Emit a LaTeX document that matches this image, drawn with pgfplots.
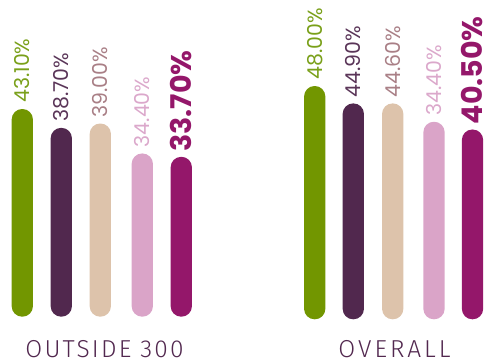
\documentclass[border=0pt]{standalone}
\usepackage{pgfplots}
\pgfplotsset{compat=1.18}
\usepackage{fontspec}
\setmainfont{Poppins}
\newfontfamily\lightfont[LetterSpace=9]{Fira Sans Light}
\newfontfamily\lightfontw[LetterSpace=12]{Fira Sans Light}
\definecolor{cgreen}{HTML}{729600}
\definecolor{cdpurple}{HTML}{51284E}
\definecolor{cbeige}{HTML}{DDC3AB}
\definecolor{cpink}{HTML}{DAA4C8}
\definecolor{cmagenta}{HTML}{94176A}
\definecolor{tgreen}{HTML}{7AA01A}
\definecolor{tdpurple}{HTML}{5A3558}
\definecolor{tbeige}{HTML}{A97F86}
\definecolor{tpink}{HTML}{DBA8CB}
\definecolor{tmagenta}{HTML}{94176A}
\definecolor{tlabel}{HTML}{52284F}
\tikzset{grouplabel/.style={text=tlabel, anchor=base, inner sep=0pt}}
\pgfplotsset{
  mygroup/.style={
    scale only axis, width=243pt, height=241.5pt,
    ymin=0, ymax=50, axis line style={draw=none}, xtick=\empty, ytick=\empty, clip=false,
    ybar, bar width=21.3pt, bar shift=0pt,
  },
  mybar/.style n args={3}{
    fill=#1, draw=none, rounded corners=10.5pt,
    nodes near coords={#3},
    every node near coord/.append style={rotate=90, anchor=west, inner xsep=6pt, inner ysep=0pt,
      font=\fontsize{20.5}{20.5}\selectfont, text=#2, rounded corners=0pt},
  },
  mybarbold/.style n args={3}{
    fill=#1, draw=none, rounded corners=10.5pt,
    nodes near coords={#3},
    every node near coord/.append style={rotate=90, anchor=west, inner xsep=5pt, inner ysep=0pt,
      font=\bfseries\fontsize{28.5}{28.5}\selectfont, text=#2, rounded corners=0pt},
  },
}
\begin{document}
\begin{tikzpicture}
\useasboundingbox (0,0) rectangle (486pt,361pt);
\begin{axis}[mygroup, at={(0pt,44.3pt)}, anchor=south west, xmin=0, xmax=243]
\addplot[mybar={cgreen}{tgreen}{43.10\%}] coordinates {(22.3,43.0)};
\addplot[mybar={cdpurple}{tdpurple}{38.70\%}] coordinates {(61.3,39.1)};
\addplot[mybar={cbeige}{tbeige}{39.00\%}] coordinates {(100.3,40.0)};
\addplot[mybar={cpink}{tpink}{34.40\%}] coordinates {(142.3,33.8)};
\addplot[mybarbold={cmagenta}{tmagenta}{33.70\%}] coordinates {(181.3,33.1)};
\node[grouplabel, font=\lightfont\fontsize{24.5}{24.5}\selectfont] at (axis cs:104.5,0) [yshift=-40.3pt] {OUTSIDE 300};
\end{axis}
\begin{axis}[mygroup, at={(243pt,41.7pt)}, anchor=south west, xmin=243, xmax=486]
\addplot[mybar={cgreen}{tgreen}{48.00\%}] coordinates {(314.7,48.3)};
\addplot[mybar={cdpurple}{tdpurple}{44.90\%}] coordinates {(353.3,44.7)};
\addplot[mybar={cbeige}{tbeige}{44.60\%}] coordinates {(392.7,44.7)};
\addplot[mybar={cpink}{tpink}{34.40\%}] coordinates {(434.0,40.9)};
\addplot[mybarbold={cmagenta}{tmagenta}{40.50\%}] coordinates {(472.5,39.3)};
\node[grouplabel, font=\lightfontw\fontsize{24.5}{24.5}\selectfont] at (axis cs:394.5,0) [yshift=-37.7pt] {OVERALL};
\end{axis}
\end{tikzpicture}
\end{document}
